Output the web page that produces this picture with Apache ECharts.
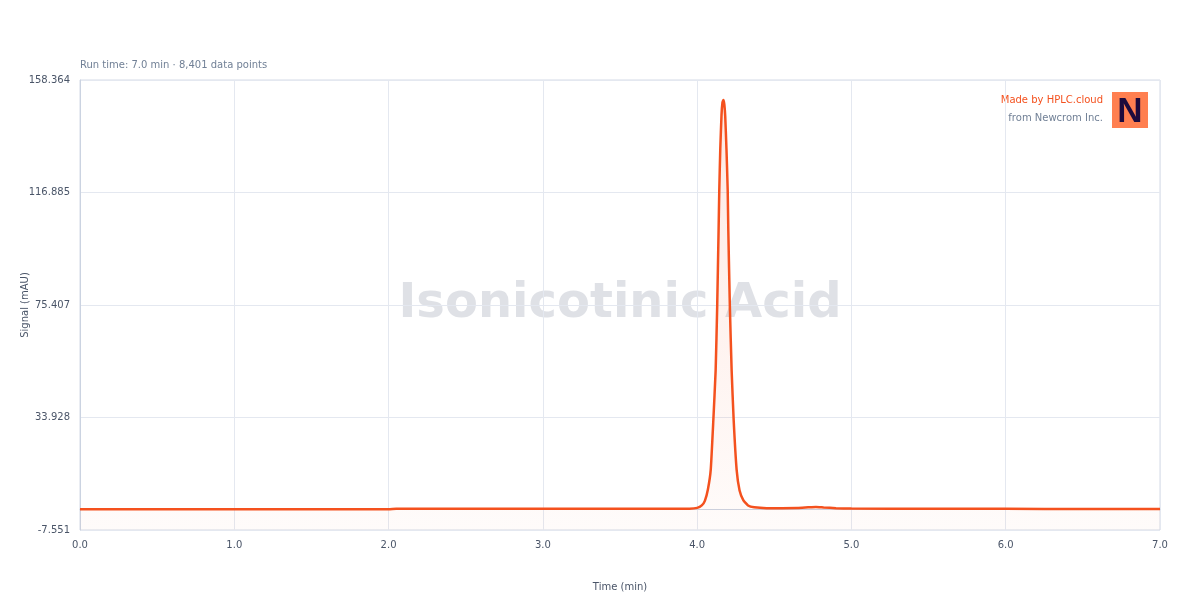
<!DOCTYPE html>
<html>
<head>
<meta charset="utf-8">
<script src="https://cdn.jsdelivr.net/npm/echarts@6/dist/echarts.min.js"></script>
<style>
html,body{margin:0;padding:0;background:#fff;}
#chart{width:1200px;height:600px;}
</style>
</head>
<body>
<div id="chart"></div>
<script>
// Data
const times = [0.00, 0.50, 1.00, 1.50, 2.00, 2.05, 2.50, 3.00, 3.50, 3.80, 3.95, 4.00, 4.03, 4.05, 4.07, 4.088, 4.105, 4.120, 4.130, 4.139, 4.1435, 4.150, 4.158, 4.164, 4.170, 4.176, 4.182, 4.190, 4.198, 4.202, 4.212, 4.2235, 4.2367, 4.256, 4.275, 4.299, 4.33, 4.37, 4.45, 4.55, 4.65, 4.72, 4.77, 4.82, 4.90, 5.00, 5.50, 6.00, 6.50, 7.00];
const signal = [0.08, 0.08, 0.08, 0.08, 0.08, 0.25, 0.25, 0.25, 0.25, 0.25, 0.3, 0.6, 1.5, 3.2, 7.5, 14.6, 33.0, 51.4, 75.0, 103.0, 117.8, 133.0, 145.5, 150.0, 151.0, 149.5, 145.0, 133.0, 117.8, 103.0, 75.0, 51.4, 33.0, 14.6, 7.0, 3.5, 1.5, 0.8, 0.5, 0.5, 0.55, 0.8, 0.95, 0.75, 0.5, 0.35, 0.3, 0.25, 0.22, 0.22];
const yTickLabels = ['-7.551', '33.928', '75.407', '116.885', '158.364'];
const xTickLabels = ['0.0', '1.0', '2.0', '3.0', '4.0', '5.0', '6.0', '7.0'];
const compoundName = 'Isonicotinic Acid';
const subtitleText = 'Run time: 7.0 min · 8,401 data points';

const Y_MIN = -7.551, Y_MAX = 158.364;
const Y_INT = (Y_MAX - Y_MIN) / 4;

const seriesData = times.map((t, i) => [t, signal[i]]);
const FONT = 'DejaVu Sans';

const chart = echarts.init(document.getElementById('chart'), null, {renderer: 'canvas'});
chart.setOption({
  animation: false,
  backgroundColor: '#ffffff',
  grid: {left: 80, right: 40, top: 80, bottom: 70, containLabel: false, outerBoundsMode: 'none',
    show: true, borderColor: '#d5dbe7', borderWidth: 1},
  graphic: [
    {type: 'text', x: 80, y: 65.5, style: {text: subtitleText, font: '10px ' + FONT, fill: '#718096', verticalAlign: 'middle'}},
    {type: 'text', x: 620, y: 305, style: {text: compoundName, font: 'bold 48px ' + FONT, fill: 'rgba(150,156,172,0.3)', align: 'center', verticalAlign: 'middle'}, z: 0},
    {type: 'text', x: 1103, y: 100.5, style: {text: 'Made by HPLC.cloud', font: '10px ' + FONT, fill: '#f4511e', align: 'right', verticalAlign: 'middle'}},
    {type: 'text', x: 1103, y: 118.5, style: {text: 'from Newcrom Inc.', font: '10px ' + FONT, fill: '#718096', align: 'right', verticalAlign: 'middle'}},
    {type: 'rect', shape: {x: 1112, y: 92, width: 36, height: 36}, style: {fill: '#ff7f50'}, z: 10},
    {type: 'text', x: 1130, y: 112, style: {text: 'N', font: 'bold 35px "Liberation Sans"', fill: '#1e0b3d', align: 'center', verticalAlign: 'middle'}, z: 11}
  ],
  xAxis: {
    type: 'value', min: 0, max: 7, interval: 1,
    name: 'Time (min)', nameLocation: 'middle', nameGap: 52, nameMoveOverlap: false,
    nameTextStyle: {fontFamily: FONT, fontSize: 10, color: '#4a5568'},
    axisLine: {show: true, lineStyle: {color: '#cbd3e1'}},
    axisTick: {show: false},
    axisLabel: {fontFamily: FONT, fontSize: 10, color: '#4a5568', margin: 10,
      formatter: (v) => xTickLabels[Math.round(v)]},
    splitLine: {show: true, lineStyle: {color: '#e4e8f0', width: 1}}
  },
  yAxis: {
    type: 'value', min: Y_MIN, max: Y_MAX, interval: Y_INT,
    name: 'Signal (mAU)', nameLocation: 'middle', nameGap: 50, nameRotate: 90, nameMoveOverlap: false,
    nameTextStyle: {fontFamily: FONT, fontSize: 10, color: '#4a5568'},
    axisLine: {show: true, lineStyle: {color: '#cbd3e1'}},
    axisTick: {show: false},
    axisLabel: {fontFamily: FONT, fontSize: 10, color: '#4a5568', margin: 10, padding: [1, 0, 0, 0],
      formatter: (v) => { const i = Math.round((v - Y_MIN) / Y_INT); return yTickLabels[i] !== undefined ? yTickLabels[i] : ''; }},
    splitLine: {show: true, lineStyle: {color: '#e4e8f0', width: 1}}
  },
  series: [{
    type: 'line',
    data: seriesData,
    showSymbol: false,
    smooth: 0.15,
    lineStyle: {color: '#f4511e', width: 2.5},
    areaStyle: {
      origin: 'start',
      color: new echarts.graphic.LinearGradient(0, 0, 0, 1, [
        {offset: 0, color: 'rgba(244,81,30,0.18)'},
        {offset: 1, color: 'rgba(244,81,30,0.03)'}
      ])
    },
    z: 5
  }]
});
</script>
</body>
</html>
